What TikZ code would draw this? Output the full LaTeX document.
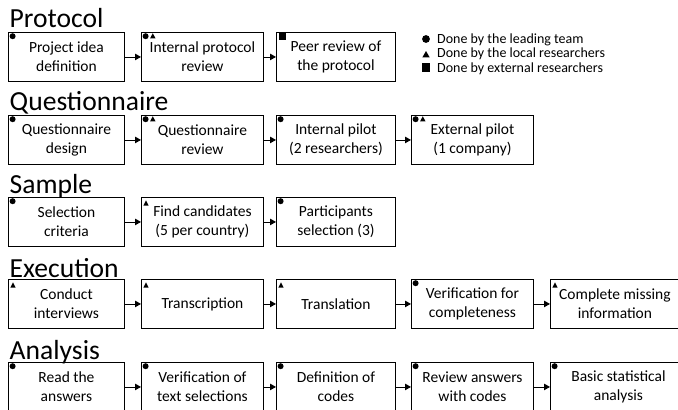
\documentclass[tikz,border=0pt]{standalone}
\usepackage{fontspec}
\setmainfont{Carlito}
\usetikzlibrary{arrows.meta,calc}
\newcommand\mkdot[1]{\fill ($(#1.north west)+(4.6,4.2)$) circle (3pt);}
\newcommand\mktri[1]{\fill ($(#1.north west)+(11.8,1.2)$) -- ++(2.7,5.2) -- ++(-5.4,0) -- cycle;}
\newcommand\mktrione[1]{\fill ($(#1.north west)+(5,3.3)$) -- ++(2.6,5.2) -- ++(-5.2,0) -- cycle;}
\newcommand\mksq[1]{\fill ($(#1.north west)+(3,1)$) rectangle ++(7,6.5);}
\begin{document}
\begin{tikzpicture}[x=1pt,y=-1pt,
  stage/.style={draw, line width=0.9pt, rectangle, inner sep=0pt, minimum height=49pt,
    align=center, anchor=north west, font=\fontsize{15.5}{19}\selectfont},
  ttl/.style={inner sep=0pt, anchor=base west, font=\fontsize{27.6}{33}\selectfont},
  lgd/.style={inner sep=0pt, anchor=base west, font=\fontsize{14}{15}\selectfont},
  arr/.style={line width=0.9pt, -{Triangle[length=6pt,width=6.5pt]}},
  w1/.style={minimum width=116pt},
  w2/.style={minimum width=122pt},
  w3/.style={minimum width=119pt},
  w4/.style={minimum width=122pt},
  w5/.style={minimum width=129pt}]
\useasboundingbox (0,0) rectangle (678,410);

% titles
\node[ttl] (tp) at (9.5,27) {Protocol};
\node[ttl] (tq) at (9.5,110) {Questionnaire};
\node[ttl] (ts) at (9.5,193) {Sample};
\node[ttl] (te) at (9.5,277) {Execution};
\node[ttl] (ta) at (9.5,359) {Analysis};

% Protocol
\node[stage,w1] (p1) at (8,32) {Project idea\\definition};
\node[stage,w2] (p2) at (141,32) {Internal protocol\\review};
\node[stage,w3] (p3) at (276,32) {Peer review of\\the protocol};
\draw[arr] (p1.east) -- (p2.west);
\draw[arr] (p2.east) -- (p3.west);
\mkdot{p1}
\mkdot{p2}\mktri{p2}
\mksq{p3}

% Questionnaire
\node[stage,w1] (q1) at (8,115) {Questionnaire\\design};
\node[stage,w2] (q2) at (141,115) {Questionnaire\\review};
\node[stage,w3] (q3) at (276,115) {Internal pilot\\(2 researchers)};
\node[stage,w4] (q4) at (411,115) {External pilot\\(1 company)};
\draw[arr] (q1.east) -- (q2.west);
\draw[arr] (q2.east) -- (q3.west);
\draw[arr] (q3.east) -- (q4.west);
\mkdot{q1}
\mkdot{q2}\mktri{q2}
\mkdot{q3}
\mkdot{q4}\mktri{q4}

% Sample
\node[stage,w1] (s1) at (8,197) {Selection\\criteria};
\node[stage,w2] (s2) at (141,197) {Find candidates\\(5 per country)};
\node[stage,w3] (s3) at (276,197) {Participants\\selection (3)};
\draw[arr] (s1.east) -- (s2.west);
\draw[arr] (s2.east) -- (s3.west);
\mkdot{s1}
\mktrione{s2}
\mkdot{s3}

% Execution
\node[stage,w1] (e1) at (8,279) {Conduct\\interviews};
\node[stage,w2] (e2) at (141,279) {Transcription};
\node[stage,w3] (e3) at (276,279) {Translation};
\node[stage,w4] (e4) at (411,279) {Verification for\\completeness};
\node[stage,w5] (e5) at (550,279) {Complete missing\\information};
\draw[arr] (e1.east) -- (e2.west);
\draw[arr] (e2.east) -- (e3.west);
\draw[arr] (e3.east) -- (e4.west);
\draw[arr] (e4.east) -- (e5.west);
\mktrione{e1}
\mktrione{e2}
\mktrione{e3}
\mkdot{e4}
\mktrione{e5}

% Analysis
\node[stage,w1] (a1) at (8,362) {Read the\\answers};
\node[stage,w2] (a2) at (141,362) {Verification of\\text selections};
\node[stage,w3] (a3) at (276,362) {Definition of\\codes};
\node[stage,w4] (a4) at (411,362) {Review answers\\with codes};
\node[stage,minimum width=136pt] (a5) at (550,362) {Basic statistical\\analysis};
\draw[arr] (a1.east) -- (a2.west);
\draw[arr] (a2.east) -- (a3.west);
\draw[arr] (a3.east) -- (a4.west);
\draw[arr] (a4.east) -- (a5.west);
\mkdot{a1}
\mkdot{a2}
\mkdot{a3}
\mkdot{a4}
\mkdot{a5}

% legend
\node[lgd] (l1) at (437,43.5) {Done by the leading team};
\node[lgd] (l2) at (437,57.8) {Done by the local researchers};
\node[lgd] (l3) at (437,72) {Done by external researchers};
\fill ($(l1.base west)+(-11,-4.5)$) circle (3.9pt);
\fill ($(l2.base west)+(-11,-0.5)$) -- ++(-3.6,0) -- ++(3.6,-6.3) -- ++(3.6,6.3) -- cycle;
\fill ($(l3.base west)+(-15,-0.5)$) rectangle ++(8.2,-8.7);
\end{tikzpicture}
\end{document}
